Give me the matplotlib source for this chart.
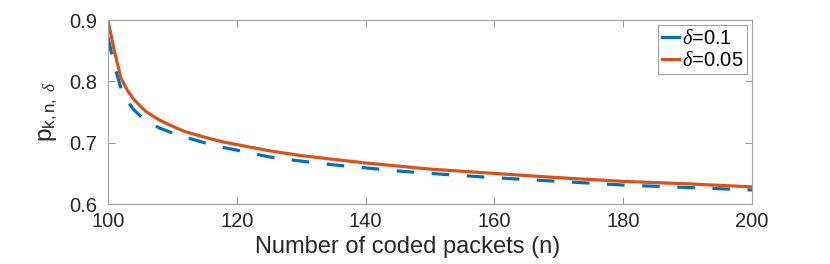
import matplotlib.pyplot as plt

plt.rcParams['font.family'] = ['Liberation Sans', 'DejaVu Sans']
plt.rcParams['mathtext.fontset'] = 'custom'
plt.rcParams['mathtext.rm'] = 'Liberation Sans'
plt.rcParams['mathtext.it'] = 'Liberation Serif:italic'

# number of coded packets
n = [100, 101, 102, 103, 104, 105, 106, 108, 110, 112, 115, 118, 120,
     125, 130, 135, 140, 145, 150, 160, 170, 180, 190, 200]
# delta = 0.1
p_d010 = [0.872, 0.826, 0.790, 0.768, 0.754, 0.744, 0.736, 0.724, 0.716,
          0.709, 0.700, 0.692, 0.688, 0.677, 0.670, 0.664, 0.659, 0.654,
          0.650, 0.643, 0.637, 0.631, 0.627, 0.623]
# delta = 0.05
p_d005 = [0.900, 0.850, 0.806, 0.786, 0.771, 0.760, 0.750, 0.737, 0.727,
          0.718, 0.709, 0.701, 0.697, 0.687, 0.679, 0.673, 0.667, 0.662,
          0.657, 0.650, 0.643, 0.637, 0.633, 0.628]
labels = [r'$\delta$=0.1', r'$\delta$=0.05']
xticks = [100, 120, 140, 160, 180, 200]
yticks = [0.6, 0.7, 0.8, 0.9]

fig = plt.figure(figsize=(8.3, 2.64), dpi=100)
ax = fig.add_axes([0.130, 0.227, 0.776, 0.697])

ax.plot(n, p_d010, color='#0072BD', lw=2.3, dashes=(5.5, 5.5), label=labels[0])
ax.plot(n, p_d005, color='#D95319', lw=2.3, label=labels[1])

ax.set_xlim(100, 200)
ax.set_ylim(0.6, 0.9)
ax.set_xticks(xticks)
ax.set_yticks(yticks)
ax.set_yticklabels(['0.6', '0.7', '0.8', '0.9'])
ax.tick_params(direction='in', top=True, right=True, length=5, width=0.6,
               color='#808080', labelsize=14.5, labelcolor='#262626')
ax.tick_params(axis='y', pad=7.5)
ax.tick_params(axis='x', pad=6)
for s in ax.spines.values():
    s.set_color('#A0A0A0')
    s.set_linewidth(0.8)

ax.set_xlabel('Number of coded packets (n)', fontsize=17, color='#262626', labelpad=1)
ax.xaxis.set_label_coords(0.466, -0.175)
ax.set_ylabel(r'p$_{\mathrm{k,n,}\ \delta}$', fontsize=17.5, color='#262626', labelpad=7)

leg = ax.legend(loc='upper right', fontsize=14.5, handlelength=0.8, handletextpad=0.15,
                borderpad=0.2, labelspacing=0.15, fancybox=False, framealpha=1,
                borderaxespad=0.25)
leg.get_frame().set_edgecolor('#A0A0A0')
leg.get_frame().set_linewidth(0.8)
for h in leg.get_lines():
    h.set_linestyle('-')

fig.savefig('out.png', dpi=100)
